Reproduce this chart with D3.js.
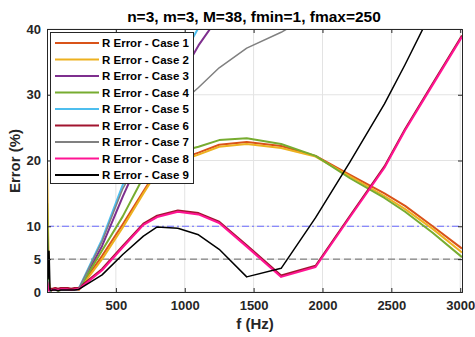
<!DOCTYPE html>
<html>
<head>
<meta charset="utf-8">
<script src="https://cdn.jsdelivr.net/npm/d3@7"></script>
<style>
  body { margin: 0; background: #fff; }
  text { font-family: "Liberation Sans", Arial, sans-serif; }
</style>
</head>
<body>
<script>
// Data
var freq = [1, 8, 15, 22, 30, 40, 60, 80, 100, 125, 150, 175, 200, 230, 400, 550, 700, 800, 950, 1100, 1250, 1450, 1700, 1950, 2200, 2450, 2600, 2800, 3013];

var case1 = [4, 1.5, 0.3, 0.2, 0.3, 0.4, 0.5, 0.3, 0.4, 0.3, 0.5, 0.3, 0.4, 0.4, 5.5, 10.3, 15.3, 18.6, 20.1, 21.2, 22.4, 22.8, 22.2, 20.7, 17.8, 15.0, 13.1, 10.0, 6.6];
var case2 = [19.5, 9, 1.5, 0.3, 0.2, 0.4, 0.6, 0.4, 0.5, 0.3, 0.6, 0.3, 0.4, 0.3, 5.0, 9.8, 15.0, 18.3, 19.8, 20.9, 22.1, 22.5, 21.9, 20.6, 17.6, 14.6, 12.6, 9.6, 6.0];
var case3 = [3, 1, 0.3, 0.2, 0.3, 0.4, 0.4, 0.3, 0.4, 0.3, 0.4, 0.3, 0.4, 0.4, 7.0, 14.5, 21.5, 26.0, 32.0, 37.5, 42, 48, 55, 62, 68, 74, 78, 83, 88];
var case4 = [13.5, 5, 0.5, 0.2, 0.3, 0.3, 0.4, 0.2, 0.3, 0.3, 0.4, 0.3, 0.3, 0.4, 6.3, 11.5, 17.5, 20.2, 21.3, 22.1, 23.1, 23.4, 22.5, 20.7, 17.3, 14.3, 12.2, 9.0, 5.3];
var case5 = [2, 0.8, 0.3, 0.2, 0.3, 0.3, 0.4, 0.3, 0.3, 0.3, 0.4, 0.3, 0.3, 0.5, 8.0, 16.3, 23.5, 28, 34.5, 40.2, 46, 52, 60, 66, 72, 78, 82, 88, 94];
var case6 = [1.7, 0.7, 0.4, 0.5, 0.5, 0.5, 0.6, 0.5, 0.6, 0.6, 0.6, 0.5, 0.6, 0.6, 3.5, 7.0, 10.4, 11.6, 12.4, 12.0, 10.7, 7.1, 2.5, 4.0, 11.6, 19.1, 24.8, 31.7, 39.0];
var case7 = [2, 0.6, 0.3, 0.2, 0.3, 0.3, 0.3, 0.3, 0.3, 0.3, 0.3, 0.3, 0.3, 0.5, 7.7, 15.7, 21.5, 24.8, 28.3, 31.1, 34.1, 37.1, 39.5, 42.5, 45, 47, 49, 51, 53];
var case8 = [1.5, 0.5, 0.2, 0.3, 0.3, 0.3, 0.4, 0.3, 0.4, 0.4, 0.4, 0.3, 0.4, 0.4, 3.3, 6.8, 10.2, 11.4, 12.2, 11.8, 10.5, 6.9, 2.3, 3.8, 11.4, 18.9, 24.6, 31.5, 38.8];
var case9 = [10.8, 2, 6.2, 0.3, 0.2, 0.3, 0.3, 0.2, 0.3, 0.3, 0.3, 0.3, 0.3, 0.4, 2.6, 5.7, 8.5, 9.9, 9.7, 8.7, 6.5, 2.3, 3.6, 11.3, 19.8, 28.6, 34.6, 43, 50];

var names = ["R Error - Case 1", "R Error - Case 2", "R Error - Case 3", "R Error - Case 4", "R Error - Case 5",
  "R Error - Case 6", "R Error - Case 7", "R Error - Case 8", "R Error - Case 9"];
var values = [case1, case2, case3, case4, case5, case6, case7, case8, case9];
var colors = ["#D95319", "#EDB120", "#7E2F8E", "#77AC30", "#4DBEEE", "#A2142F", "#808080", "#FF1493", "#000000"];
var widths = [2, 2, 2, 2, 2, 2, 1.5, 2, 1.5];

var xTicks = [500, 1000, 1500, 2000, 2500, 3000];
var yTicks = [0, 5, 10, 20, 30, 40];
var refLevels = [10, 5];

// Dimensions (plot box)
var width = 475;
var height = 337;
var pLeft = 47, pRight = 462, pTop = 29, pBottom = 292;

var x = d3.scaleLinear().domain([0, 3013]).range([pLeft, pRight]);
var y = d3.scaleLinear().domain([0, 40]).range([pBottom, pTop]);

var svg = d3.select("body").append("svg")
  .attr("width", width)
  .attr("height", height);

svg.append("clipPath").attr("id", "plot")
  .append("rect")
  .attr("x", pLeft).attr("y", pTop)
  .attr("width", pRight - pLeft).attr("height", pBottom - pTop);

// Grid
svg.append("g").selectAll("line").data(xTicks).enter().append("line")
  .attr("x1", function (d) { return x(d); }).attr("x2", function (d) { return x(d); })
  .attr("y1", pTop).attr("y2", pBottom)
  .attr("stroke", "#e3e3e3").attr("stroke-width", 1);
svg.append("g").selectAll("line").data(yTicks).enter().append("line")
  .attr("x1", pLeft).attr("x2", pRight)
  .attr("y1", function (d) { return y(d); }).attr("y2", function (d) { return y(d); })
  .attr("stroke", "#e3e3e3").attr("stroke-width", 1);

// Reference lines
svg.append("line")
  .attr("x1", pLeft).attr("x2", pRight)
  .attr("y1", y(refLevels[0])).attr("y2", y(refLevels[0]))
  .attr("stroke", "#6b6bff").attr("stroke-width", 1)
  .attr("stroke-dasharray", "7,3,2,3");
svg.append("line")
  .attr("x1", pLeft).attr("x2", pRight)
  .attr("y1", y(refLevels[1])).attr("y2", y(refLevels[1]))
  .attr("stroke", "#666").attr("stroke-width", 1)
  .attr("stroke-dasharray", "7,4");

// Curves
var line = d3.line()
  .x(function (d, i) { return x(freq[i]); })
  .y(function (d) { return y(d); });

svg.append("g").attr("clip-path", "url(#plot)")
  .selectAll("path").data(values).enter().append("path")
  .attr("d", line)
  .attr("fill", "none")
  .attr("stroke", function (d, i) { return colors[i]; })
  .attr("stroke-width", function (d, i) { return widths[i]; })
  .attr("stroke-linejoin", "round");

// Axes
var axisColor = "#262626";
svg.append("g").attr("transform", "translate(0," + pBottom + ")")
  .call(d3.axisBottom(x).tickValues(xTicks).tickSize(-4).tickPadding(9).tickFormat(d3.format("d")));
svg.append("g").attr("transform", "translate(" + pLeft + ",0)")
  .call(d3.axisLeft(y).tickValues(yTicks).tickSize(-4).tickPadding(6));
svg.append("g").attr("transform", "translate(0," + pTop + ")")
  .call(d3.axisTop(x).tickValues(xTicks).tickSize(-4).tickFormat(""));
svg.append("g").attr("transform", "translate(" + pRight + ",0)")
  .call(d3.axisRight(y).tickValues(yTicks).tickSize(-4).tickFormat(""));

svg.selectAll(".domain").attr("stroke", axisColor);
svg.selectAll(".tick line").attr("stroke", axisColor);
svg.selectAll(".tick text")
  .attr("fill", axisColor)
  .style("font-size", "13px")
  .style("font-weight", "bold")
  .style("font-family", "'Liberation Sans', Arial, sans-serif");

// Titles
svg.append("text")
  .attr("x", 254).attr("y", 22)
  .attr("text-anchor", "middle")
  .style("font-size", "15.5px").style("font-weight", "bold")
  .attr("fill", "#000")
  .text("n=3, m=3, M=38, fmin=1, fmax=250");
svg.append("text")
  .attr("x", 255).attr("y", 329)
  .attr("text-anchor", "middle")
  .style("font-size", "15px").style("font-weight", "bold")
  .attr("fill", axisColor)
  .text("f (Hz)");
svg.append("text")
  .attr("transform", "translate(20,161) rotate(-90)")
  .attr("text-anchor", "middle")
  .style("font-size", "15px").style("font-weight", "bold")
  .attr("fill", axisColor)
  .text("Error (%)");

// Legend
var legend = svg.append("g");
legend.append("rect")
  .attr("x", 50.5).attr("y", 32.5)
  .attr("width", 143).attr("height", 151)
  .attr("fill", "#fff").attr("stroke", axisColor).attr("stroke-width", 1);

var rows = legend.selectAll("g.row").data(names).enter().append("g")
  .attr("class", "row")
  .attr("transform", function (d, i) { return "translate(0," + (43 + i * 16.5) + ")"; });
rows.append("line")
  .attr("x1", 55).attr("x2", 99)
  .attr("stroke", function (d, i) { return colors[i]; })
  .attr("stroke-width", 2);
rows.append("text")
  .attr("x", 102).attr("dy", "0.35em")
  .style("font-size", "11.5px").style("font-weight", "bold")
  .attr("fill", "#000")
  .text(function (d) { return d; });
</script>
</body>
</html>
